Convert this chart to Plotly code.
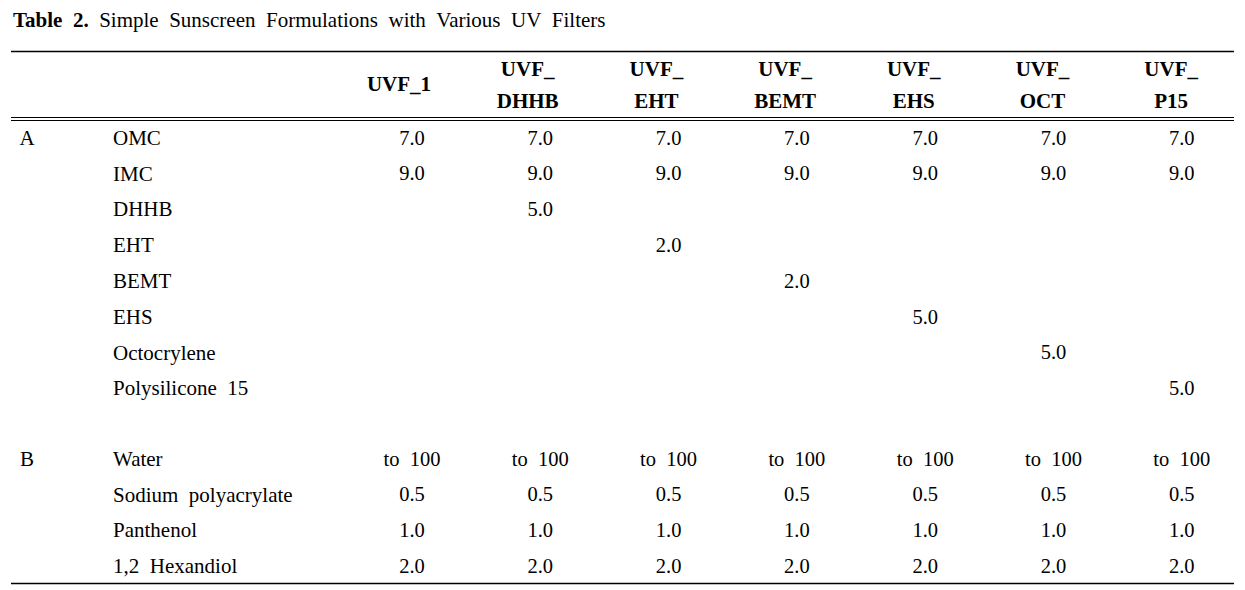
import plotly.graph_objects as go

# ---------------- data ----------------
title_bold = "Table 2."
title_rest = "Simple Sunscreen Formulations with Various UV Filters"

col_line1 = ["UVF_1", "UVF_", "UVF_", "UVF_", "UVF_", "UVF_", "UVF_"]
col_line2 = ["", "DHHB", "EHT", "BEMT", "EHS", "OCT", "P15"]

phase_labels = ["A", "B"]

ingredients_A = ["OMC", "IMC", "DHHB", "EHT", "BEMT", "EHS", "Octocrylene", "Polysilicone 15"]
values_A = [
    ["7.0", "7.0", "7.0", "7.0", "7.0", "7.0", "7.0"],
    ["9.0", "9.0", "9.0", "9.0", "9.0", "9.0", "9.0"],
    ["", "5.0", "", "", "", "", ""],
    ["", "", "2.0", "", "", "", ""],
    ["", "", "", "2.0", "", "", ""],
    ["", "", "", "", "5.0", "", ""],
    ["", "", "", "", "", "5.0", ""],
    ["", "", "", "", "", "", "5.0"],
]

ingredients_B = ["Water", "Sodium polyacrylate", "Panthenol", "1,2 Hexandiol"]
values_B = [
    ["to 100", "to 100", "to 100", "to 100", "to 100", "to 100", "to 100"],
    ["0.5", "0.5", "0.5", "0.5", "0.5", "0.5", "0.5"],
    ["1.0", "1.0", "1.0", "1.0", "1.0", "1.0", "1.0"],
    ["2.0", "2.0", "2.0", "2.0", "2.0", "2.0", "2.0"],
]

# ---------------- layout constants ----------------
W, H = 1245, 590
FONT = "Liberation Serif"
FS_NAME = 21
FS_VAL = 20.5
FS_HDR = 21
FS_TITLE = 21
SP = "\u2002"  # wide word spacing like the reference typesetting

def wide(s):
    return s.replace(" ", SP)

hdr_x0, hdr_step = 399, 128.7
val_x0, val_step = 412, 128.3
name_x = 113
phase_x = 27
rowA_y0 = 139.5
row_step = 35.8
rowB_y0 = 460.5
hdr_y_single = 85.5
hdr_y1, hdr_y2 = 71, 102.5

fig = go.Figure()

# header
hx = [hdr_x0 + i * hdr_step for i in range(len(col_line1))]
fig.add_trace(go.Scatter(
    x=hx, y=[hdr_y_single if col_line2[i] == "" else hdr_y1 for i in range(len(hx))],
    text=[f"<b>{t}</b>" for t in col_line1], mode="text", textposition="middle center",
    textfont=dict(family=FONT, size=FS_HDR, color="black"), hoverinfo="skip", showlegend=False))
fig.add_trace(go.Scatter(
    x=hx, y=[hdr_y2] * len(hx),
    text=[f"<b>{t}</b>" for t in col_line2], mode="text", textposition="middle center",
    textfont=dict(family=FONT, size=FS_HDR, color="black"), hoverinfo="skip", showlegend=False))

# phase labels
fig.add_trace(go.Scatter(
    x=[phase_x, phase_x], y=[rowA_y0, rowB_y0], text=phase_labels, mode="text",
    textposition="middle center", textfont=dict(family=FONT, size=FS_NAME, color="black"),
    hoverinfo="skip", showlegend=False))

# ingredient names and values
def add_block(names, vals, y0):
    ys = [y0 + r * row_step for r in range(len(names))]
    fig.add_trace(go.Scatter(
        x=[name_x] * len(names), y=ys, text=[wide(n) for n in names], mode="text",
        textposition="middle right", textfont=dict(family=FONT, size=FS_NAME, color="black"),
        hoverinfo="skip", showlegend=False))
    for c in range(len(col_line1)):
        fig.add_trace(go.Scatter(
            x=[val_x0 + c * val_step] * len(names), y=ys,
            text=[wide(vals[r][c]) for r in range(len(names))], mode="text",
            textposition="middle center", textfont=dict(family=FONT, size=FS_VAL, color="black"),
            hoverinfo="skip", showlegend=False))

add_block(ingredients_A, values_A, rowA_y0)
add_block(ingredients_B, values_B, rowB_y0)

# rules
for y, wdt in [(51.5, 1.4), (117.5, 1.2), (120.5, 1.2), (583.5, 1.4)]:
    fig.add_shape(type="line", x0=11, x1=1234, y0=y, y1=y, xref="x", yref="y",
                  line=dict(color="black", width=wdt))

fig.add_annotation(x=11, y=20, xref="x", yref="y", xanchor="left", yanchor="middle",
                   showarrow=False, text=f"<b>{wide(title_bold)}</b>{SP}{wide(title_rest)}",
                   font=dict(family=FONT, size=FS_TITLE, color="black"))

fig.update_layout(
    width=W, height=H, margin=dict(l=0, r=0, t=0, b=0),
    paper_bgcolor="white", plot_bgcolor="white",
    xaxis=dict(range=[0, W], visible=False, fixedrange=True),
    yaxis=dict(range=[H, 0], visible=False, fixedrange=True),
)

fig.write_html("out.html", config={"displayModeBar": False},
               post_script="document.body.style.margin='0';document.body.style.overflow='hidden';")
